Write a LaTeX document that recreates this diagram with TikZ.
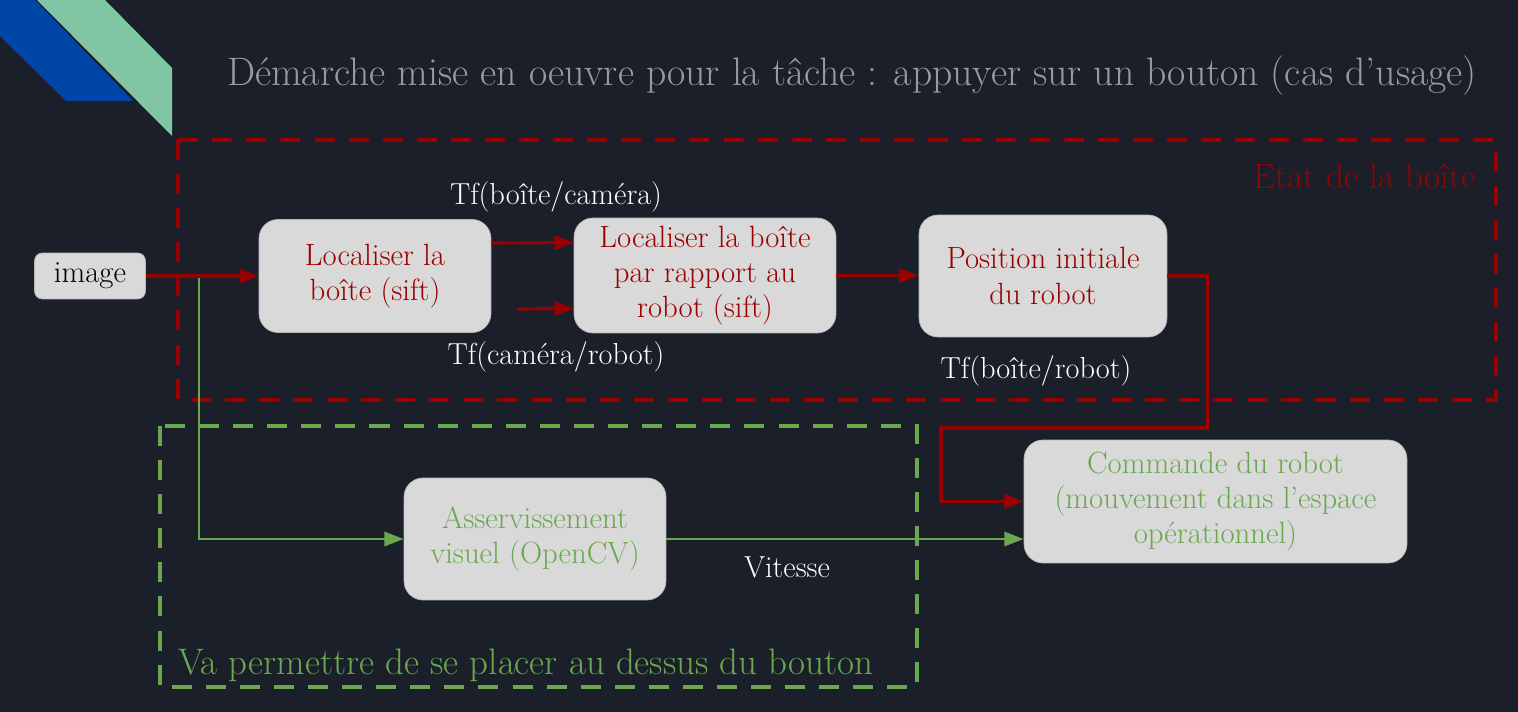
\documentclass[tikz,border=0pt]{standalone}
\usepackage{fontspec}
\usetikzlibrary{arrows.meta, positioning}
\definecolor{bgdark}{HTML}{1B1F2A}
\definecolor{boxred}{HTML}{990000}
\definecolor{boxgreen}{HTML}{6AA84F}
\definecolor{boxgray}{HTML}{D9D9D9}
\definecolor{titlegray}{HTML}{9A9A9A}
\definecolor{stripeblue}{HTML}{0045A8}
\definecolor{stripemint}{HTML}{80C6A5}

\begin{document}
\begin{tikzpicture}[x=0.02cm, y=-0.02cm,
    block/.style={fill=boxgray, draw=boxgray!85!black, line width=0.4pt,
        rounded corners=0.38cm, align=center, inner sep=0pt,
        font=\fontsize{17.5}{20}\selectfont},
    redarrow/.style={draw=boxred, line width=1.8pt,
        -{Triangle[length=11pt,width=8pt]}},
    greenarrow/.style={draw=boxgreen, line width=1.7pt,
        -{Triangle[length=11pt,width=8pt]}},
    zone/.style={line width=2.3pt, dash pattern=on 11.4pt off 8pt},
    tflabel/.style={text=white, font=\fontsize{17.3}{20}\selectfont}]

    % fond et bandes
    \fill[bgdark] (0,0) rectangle (1518,712);
    \fill[stripeblue] (0,0) -- (35,0) -- (133,101) -- (66,101) -- (0,36) -- cycle;
    \fill[stripemint] (37,0) -- (105,0) -- (172,68) -- (172,136) -- cycle;

    \node[text=titlegray, font=\fontsize{22.6}{26}\selectfont] (titre) at (852,76)
        {Démarche mise en oeuvre pour la tâche : appuyer sur un bouton (cas d’usage)};

    % zones
    \draw[zone, boxred] (178,140) rectangle (1496,400);
    \draw[zone, boxgreen] (160,426) rectangle (917,687);
    \node[text=boxred, anchor=east, font=\fontsize{20}{24}\selectfont] (etat) at (1482,176)
        {Etat de la boîte};
    \node[text=boxgreen, anchor=west, font=\fontsize{21}{24}\selectfont] (placer) at (172,665)
        {Va permettre de se placer au dessus du bouton};

    % blocs
    \node[block, rounded corners=0.16cm, minimum width=2.22cm, minimum height=0.92cm] (img) at (90,276) {image};
    \node[block, text=boxred, minimum width=4.64cm, minimum height=2.26cm] (loc1) at (375,276)
        {Localiser la\\boîte (sift)};
    \node[block, text=boxred, minimum width=5.24cm, minimum height=2.3cm] (loc2) at (705,275.5)
        {Localiser la boîte\\par rapport au\\robot (sift)};
    \node[block, text=boxred, minimum width=4.96cm, minimum height=2.44cm] (pos) at (1043,276)
        {Position initiale\\du robot};
    \node[block, text=boxgreen, minimum width=7.66cm, minimum height=2.46cm] (cmd) at (1215.5,501.5)
        {Commande du robot\\(mouvement dans l’espace\\opérationnel)};
    \node[block, text=boxgreen, minimum width=5.24cm, minimum height=2.44cm] (asv) at (535,539)
        {Asservissement\\visuel (OpenCV)};

    % etiquettes
    \node[tflabel] (tfbc) at (556,197) {Tf(boîte/caméra)};
    \node[tflabel] (tfcr) at (556,357) {Tf(caméra/robot)};
    \node[tflabel] (tfbr) at (1036,371) {Tf(boîte/robot)};
    \node[tflabel] (vit) at (787,567) {Vitesse};

    \coordinate (split) at (199,278);
    \coordinate (tourne) at (941,428);

    % liaisons
    \draw[greenarrow] (split) |- (asv.west);
    \draw[redarrow] (img.east) -- (loc1.west);
    \draw[redarrow] ([yshift=0.66cm]loc1.east) -- ([yshift=0.66cm]loc2.west);
    \draw[redarrow] ([xshift=0.52cm,yshift=-0.66cm]loc1.east) -- ([yshift=-0.66cm]loc2.west);
    \draw[redarrow] (loc2.east) -- (loc2.east -| pos.west);
    \draw[redarrow, rounded corners=0pt] (pos.east) -- ++(40,0) |- (tourne) |- (cmd.west);
    \draw[greenarrow] (asv.east) -- (asv.east -| cmd.west);

\end{tikzpicture}
\end{document}
